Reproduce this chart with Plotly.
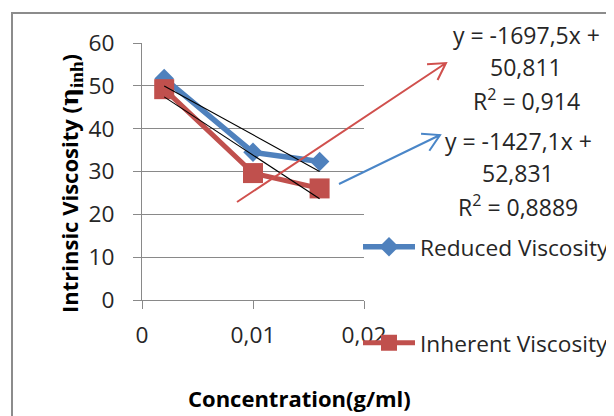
import numpy as np
import plotly.graph_objects as go

# ---- data ----
concentration = [0.002, 0.01, 0.016]
reduced_viscosity = [51.72, 34.49, 32.32]
inherent_viscosity = [49.22, 29.63, 26.05]
series_names = ["Reduced Viscosity", "Inherent Viscosity"]
red_eq_lines = ["y = -1697,5x +", "50,811", "R<sup>2</sup> = 0,914"]
blue_eq_lines = ["y = -1427,1x +", "52,831", "R<sup>2</sup> = 0,8889"]
x_ticks = [0, 0.01, 0.02]
y_ticks = [0, 10, 20, 30, 40, 50, 60]

BLUE = "#4F81BD"
RED = "#C0504D"
GRID = "#898989"
TXT = "#262626"
FONT = "Open Sans"
FS = 22.7

# page has an 8px body margin; work in screenshot pixels
OFF = 8
W, H = 614 - OFF, 416 - OFF
PL, PR, PT, PB = 142, 364, 43, 300  # plot area in screenshot px
L, T = PL - OFF, PT - OFF
R = W - (PR - OFF)
B = H - (PB - OFF)
PW, PH = PR - PL, PB - PT


def px(x):
    return (x - PL) / PW


def py(y):
    return (PB - y) / PH


fig = go.Figure()
fig.add_trace(go.Scatter(
    x=concentration, y=reduced_viscosity, name=series_names[0], mode="lines+markers",
    line=dict(color=BLUE, width=5.5), marker=dict(symbol="diamond", size=15, color=BLUE),
    legend="legend"))
fig.add_trace(go.Scatter(
    x=concentration, y=inherent_viscosity, name=series_names[1], mode="lines+markers",
    line=dict(color=RED, width=5), marker=dict(symbol="square", size=20, color=RED),
    legend="legend2"))

# linear trendlines (least squares fit of each series)
xs = np.array([min(concentration), max(concentration)])
for ys in (reduced_viscosity, inherent_viscosity):
    m, c = np.polyfit(concentration, ys, 1)
    fig.add_trace(go.Scatter(x=xs, y=m * xs + c, mode="lines", showlegend=False,
                             line=dict(color="#000000", width=1.1), hoverinfo="skip"))

shapes = []
# outer chart border (top + left)
shapes.append(dict(type="path", xref="paper", yref="paper",
                   path=f"M{px(12)},{py(420)} L{px(12)},{py(13)} L{px(618)},{py(13)}",
                   line=dict(color="#8c8c8c", width=2)))


def arrow(x0, y0, x1, y1, color):
    ang = np.arctan2(y1 - y0, x1 - x0)
    L_ = 19
    a = np.radians(30)
    p1 = (x1 - L_ * np.cos(ang - a), y1 - L_ * np.sin(ang - a))
    p2 = (x1 - L_ * np.cos(ang + a), y1 - L_ * np.sin(ang + a))
    path = (f"M{px(x0)},{py(y0)} L{px(x1)},{py(y1)} "
            f"M{px(p1[0])},{py(p1[1])} L{px(x1)},{py(y1)} L{px(p2[0])},{py(p2[1])}")
    return dict(type="path", xref="paper", yref="paper", path=path,
                line=dict(color=color, width=2))


shapes.append(arrow(237, 202, 446, 63, "#D0504D"))
shapes.append(arrow(339, 184, 440, 135, "#4A86C8"))

annotations = []
for i, t in enumerate(red_eq_lines):
    annotations.append(dict(text=t, x=px(526), y=py([35, 67, 100][i]), xref="paper", yref="paper",
                            showarrow=False, xanchor="center", yanchor="middle",
                            font=dict(family=FONT, size=23, color=TXT)))
for i, t in enumerate(blue_eq_lines):
    annotations.append(dict(text=t, x=px(518), y=py([141, 173, 206][i]), xref="paper", yref="paper",
                            showarrow=False, xanchor="center", yanchor="middle",
                            font=dict(family=FONT, size=23, color=TXT)))
annotations.append(dict(text="Concentration(g/ml)", x=px(299), y=py(398), xref="paper", yref="paper",
                        showarrow=False, xanchor="center", yanchor="middle",
                        font=dict(family=FONT, size=22, color="#000", weight="bold")))
annotations.append(dict(
    text="Intrinsic Viscosity (<span style='font-family:DejaVu Serif;font-size:25px'>η</span>"
         "<sub><span style='font-family:Liberation Serif;font-size:19px'>inh</span></sub>)",
    x=px(70), y=py(184), xref="paper", yref="paper", textangle=-90,
    showarrow=False, xanchor="center", yanchor="middle",
    font=dict(family=FONT, size=22, color="#000", weight="bold")))

fig.update_layout(
    width=W, height=H, autosize=False,
    margin=dict(l=L, r=R, t=T, b=B, autoexpand=False),
    paper_bgcolor="white", plot_bgcolor="white",
    separators=",.",
    font=dict(family=FONT, size=FS, color=TXT),
    shapes=shapes, annotations=annotations,
    legend=dict(x=px(358), y=py(247), xanchor="left", yanchor="middle",
                bgcolor="rgba(0,0,0,0)", font=dict(family=FONT, size=FS, color=TXT), itemwidth=52),
    legend2=dict(x=px(358), y=py(343), xanchor="left", yanchor="middle",
                 bgcolor="rgba(0,0,0,0)", font=dict(family=FONT, size=FS, color=TXT), itemwidth=52),
    xaxis=dict(range=[0, 0.02], tickvals=x_ticks, showgrid=False, zeroline=False,
               showline=True, linecolor=GRID, linewidth=1, ticks="outside", ticklen=8,
               tickcolor=GRID, tickfont=dict(family=FONT, size=FS, color=TXT),
               ticklabelstandoff=7),
    yaxis=dict(range=[0, 60], tickvals=y_ticks, showgrid=True, gridcolor=GRID, gridwidth=1,
               zeroline=False, showline=True, linecolor=GRID, linewidth=1, ticks="outside",
               ticklen=8, tickcolor=GRID, tickfont=dict(family=FONT, size=FS, color=TXT),
               ticklabelstandoff=14),
)

fig.write_html("out.html")
